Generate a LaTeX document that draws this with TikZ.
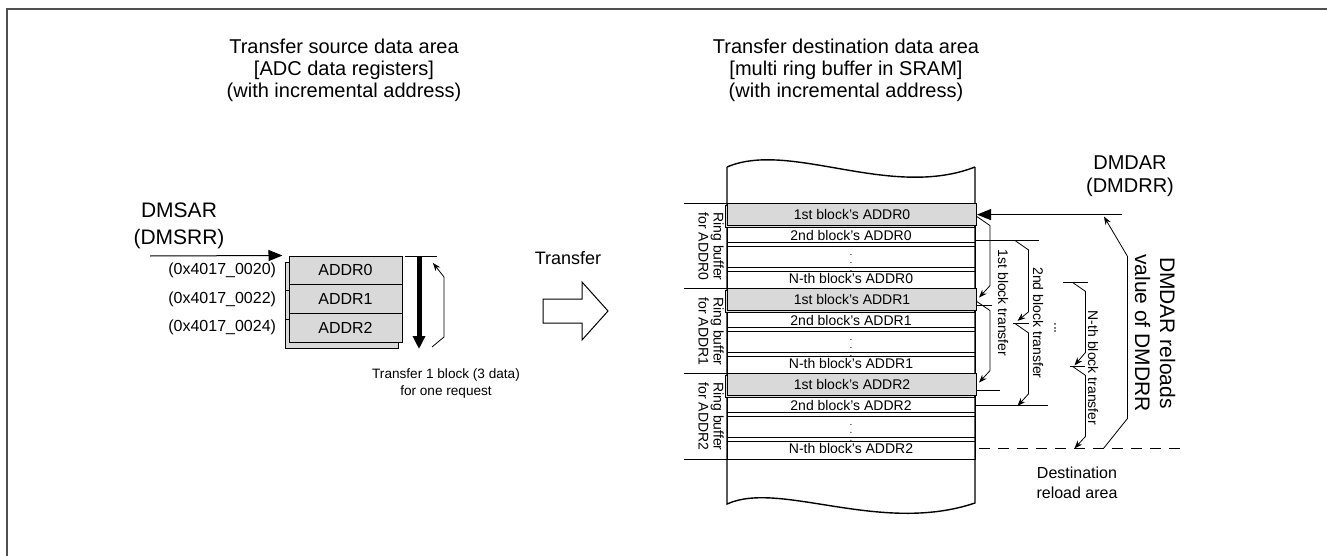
\documentclass[tikz,border=0pt]{standalone}
\usepackage{fontspec}
\setmainfont{Liberation Sans}
\usetikzlibrary{positioning,arrows.meta,shadows}
\definecolor{cellgray}{RGB}{217,217,217}
\definecolor{framegray}{RGB}{80,80,80}
\newcommand{\fsz}[2]{\fontsize{#1}{#2}\selectfont}

\begin{document}
\begin{tikzpicture}[x=0.5pt,y=-0.5pt,line width=0.5pt,font=\fsz{7}{8.4},
  reg/.style={draw,fill=cellgray,minimum width=56.5pt,minimum height=14.35pt,inner sep=0pt,font=\fsz{8}{9.6},
    copy shadow={shadow xshift=-2pt,shadow yshift=-3pt}},
  cell/.style={draw,minimum width=124pt,minimum height=10.625pt,inner sep=0pt},
  hot/.style={cell,fill=cellgray,minimum width=124.5pt,copy shadow={shadow xshift=-1pt,shadow yshift=-1pt}},
  ttl/.style={align=center,font=\fsz{10}{11}},
  ar/.style={-{Triangle[length=7pt,width=5.5pt]}},
  sar/.style={-{Stealth[length=4pt,width=3pt]},line width=0.4pt}]
  \useasboundingbox (0,0) rectangle (1327,556);
  \draw[framegray,line width=1pt] (7,556) -- (7,9) -- (1327,9);

  % source side
  \node[ttl] (srcttl) at (344,70) {Transfer source data area\\{[ADC data registers]}\\(with incremental address)};
  \node[align=center,font=\fsz{10.5}{13.5}] (sar) at (179,226) {DMSAR\\(DMSRR)};
  \foreach \i in {0,1,2} {
    \pgfmathtruncatemacro\j{2*\i}
    \node[reg] (reg\i) at (345.5,270.35+28.7*\i) {ADDR\i};
    \node[left=6pt of reg\i,font=\fsz{8}{9.6},inner sep=0pt] (adr\i) {(0x4017\_002\j)};
  }
  \coordinate (sarin) at (150,256);
  \draw[ar] (sarin) -- ([xshift=-3pt]reg0.north west);
  \coordinate (blktop) at (419,256);
  \coordinate (blkbot) at (419,349);
  \draw[line width=2.5pt,-{Triangle[length=6.5pt,width=6pt]}] (blktop) -- (blkbot);
  \draw ([xshift=-7pt]blktop) -- ([xshift=9pt]blktop);
  \draw[sar] (432,347) -- (444,337) -- (444,277) -- (433,263);
  \node[align=center,font=\fsz{6.8}{8.5}] (blknote) at (446,383) {Transfer 1 block (3 data)\\for one request};

  % transfer arrow
  \node[font=\fsz{9}{10}] (xfer) at (568,258) {Transfer};
  \draw (543,299) -- (582,299) -- (582,282) -- (608,311) -- (582,340) -- (582,323) -- (543,323) -- cycle;

  % destination side
  \node[ttl] (dstttl) at (846,70) {Transfer destination data area\\{[multi ring buffer in SRAM]}\\(with incremental address)};
  \draw[line width=0.7pt] (727,167) .. controls (790,140) and (890,200) .. (975,167);
  \draw[line width=0.7pt] (727,167) -- (727,504) .. controls (780,480) and (880,535) .. (975,503) -- (975,167);
  \foreach \g in {0,1,2} {
    \node[cell] (s\g) at (851,235.9+85*\g) {2nd block’s ADDR\g};
    \node[cell] (d\g) at (851,257.1+85*\g) {\fsz{5}{5}$\vdots$};
    \node[cell] (n\g) at (851,278.4+85*\g) {N-th block’s ADDR\g};
    \node[hot] (f\g) at (852,214.6+85*\g) {1st block’s ADDR\g};
    \draw (f\g.north west) -- ++(-43,0);
    \node[rotate=-90,align=center,font=\fsz{7}{7.5}] (rb\g) at (711,246.5+85*\g) {Ring buffer\\for ADDR\g};
  }
  \draw (n2.south west) -- ++(-43,0);

  % reload side
  \node[align=center,font=\fsz{10}{11.5}] (dar) at (1130,176) {DMDAR\\(DMDRR)};
  \coordinate[right=72.5pt of f0.east] (darin);
  \draw[ar] (darin) -- (f0.east);

  % 1st block transfer
  \foreach \a/\b in {f0/f1,f1/f2} {
    \draw[sar] ([yshift=-1pt]\a.east) -- ++(13,9) -- ++(0,60) -- ([xshift=1pt,yshift=1pt]\b.east);
  }
  \draw ([yshift=-3pt]f1.east) -- ++(15,0);
  \draw ([yshift=-3pt]f2.east) -- ++(23,0);
  \node[rotate=-90] (t1) at (1003,303) {1st block transfer};

  % 2nd block transfer
  \draw ([yshift=-2.5pt]s0.east) -- ++(63,0);
  \draw[sar] ([xshift=20pt,yshift=-2.5pt]s0.east) -- ++(13,9) -- ++(0,62) -- ([xshift=21pt]s1.east);
  \draw ([xshift=18.5pt,yshift=-1.5pt]s1.east) -- ++(16,0);
  \draw[sar] ([xshift=20pt,yshift=-1.5pt]s1.east) -- ++(13,9) -- ++(0,61) -- ([xshift=21pt]s2.east);
  \draw (s2.east) -- ++(72,0);
  \node[rotate=-90] (t2) at (1038,323) {2nd block transfer};
  \node[rotate=-90] (dots) at (1055,328) {...};

  % N-th block transfer
  \draw ([xshift=43.5pt,yshift=-2pt]n0.east) -- ++(25,0);
  \draw[sar] ([xshift=48.5pt,yshift=-2pt]n0.east) -- ++(13,9) -- ++(0,61) -- ([xshift=49.5pt,yshift=-1pt]n1.east);
  \draw ([xshift=47pt,yshift=-1.5pt]n1.east) -- ++(15,0);
  \draw[sar] ([xshift=48.5pt,yshift=-1.5pt]n1.east) -- ++(13,9) -- ++(0,61) -- ([xshift=49.5pt]n2.east);
  \node[rotate=-90] (tn) at (1093,368) {N-th block transfer};

  % reload area
  \draw[dash pattern=on 5.5pt off 4pt] ([xshift=1.5pt]n2.east) -- ++(202,0);
  \coordinate[right=64pt of n2.east] (rl);
  \draw[sar] (rl) -- ++(24,-30) -- ++(0,-162) -- ([xshift=-9pt,yshift=-1pt]darin);
  \node[rotate=-90,align=center,font=\fsz{10.5}{12.5}] (rld) at (1155,333) {DMDAR reloads\\value of DMDRR};
  \node[align=center,font=\fsz{8}{10}] (dst) at (1077,483) {Destination\\reload area};
\end{tikzpicture}
\end{document}
